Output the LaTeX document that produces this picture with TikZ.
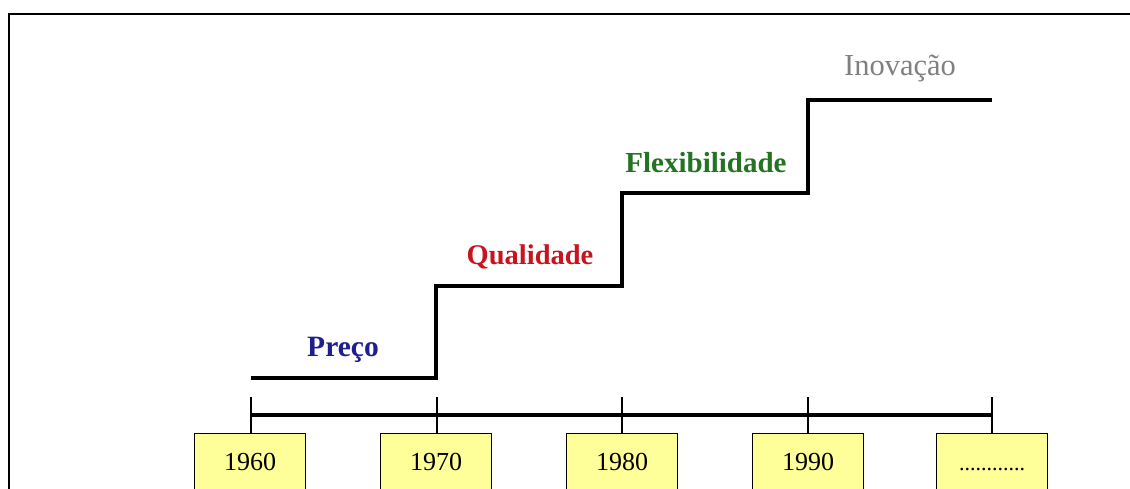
\documentclass[tikz,border=0pt]{standalone}
\usepackage{fontspec}
\setmainfont{Liberation Serif}
\definecolor{boxyellow}{HTML}{FFFF99}
\definecolor{cpreco}{HTML}{1E1E8C}
\definecolor{cqual}{HTML}{C8141E}
\definecolor{cflex}{HTML}{237323}
\definecolor{cinov}{HTML}{808080}
\tikzset{
  stair/.style={line width=4pt, line join=miter},
  axisline/.style={line width=4pt},
  tick/.style={line width=1.3pt},
  yearbox/.style={draw, line width=1.2pt, fill=boxyellow, anchor=north,
    minimum width=111pt, minimum height=70pt, inner sep=0pt,
    text height=18pt, text depth=15pt, font=\fontsize{26}{26}\selectfont},
  phase/.style={font=\fontsize{29.5}{29.5}\selectfont\bfseries},
}
\begin{document}
\begin{tikzpicture}[x=1pt,y=-1pt]
\useasboundingbox (0,0) rectangle (1130,489);
\fill[white] (0,0) rectangle (1130,489);
% frame (top and left only visible)
\draw[line width=2pt] (9,489) -- (9,14) -- (1130,14);
% staircase
\coordinate (s0) at (251,378);
\coordinate (s1) at (436,378);
\coordinate (s2) at (436,286);
\coordinate (s3) at (622,286);
\coordinate (s4) at (622,193);
\coordinate (s5) at (808,193);
\coordinate (s6) at (808,100);
\coordinate (s7) at (992,100);
\draw[stair] (s0) -- (s1) -- (s2) -- (s3) -- (s4) -- (s5) -- (s6) -- (s7);
% labels
\node[phase, text=cpreco] (preco) at (343,350) {Preço};
\node[phase, font=\fontsize{28.5}{28.5}\selectfont\bfseries, text=cqual] (qual) at (530,257) {Qualidade};
\node[phase, font=\fontsize{29}{29}\selectfont\bfseries, text=cflex] (flex) at (706,163) {Flexibilidade};
\node[font=\fontsize{30.5}{30.5}\selectfont, text=cinov] (inov) at (900,68) {Inovação};
% timeline
\coordinate (a0) at (251,415);
\coordinate (a1) at (992,415);
\draw[axisline] (a0) -- (a1);
% boxes
\node[yearbox] (b1) at (250,433) {1960};
\node[yearbox] (b2) at (436,433) {1970};
\node[yearbox] (b3) at (622,433) {1980};
\node[yearbox] (b4) at (808,433) {1990};
\node[yearbox, font=\fontsize{22}{22}\selectfont] (b5) at (992,433) {............};
% ticks
\coordinate (t1) at (251,397);
\coordinate (t2) at (437,397);
\coordinate (t3) at (622,397);
\coordinate (t4) at (808,397);
\coordinate (t5) at (992,397);
\foreach \i in {1,...,5} \draw[tick] (t\i) -- (t\i |- b\i.north);
\end{tikzpicture}
\end{document}
